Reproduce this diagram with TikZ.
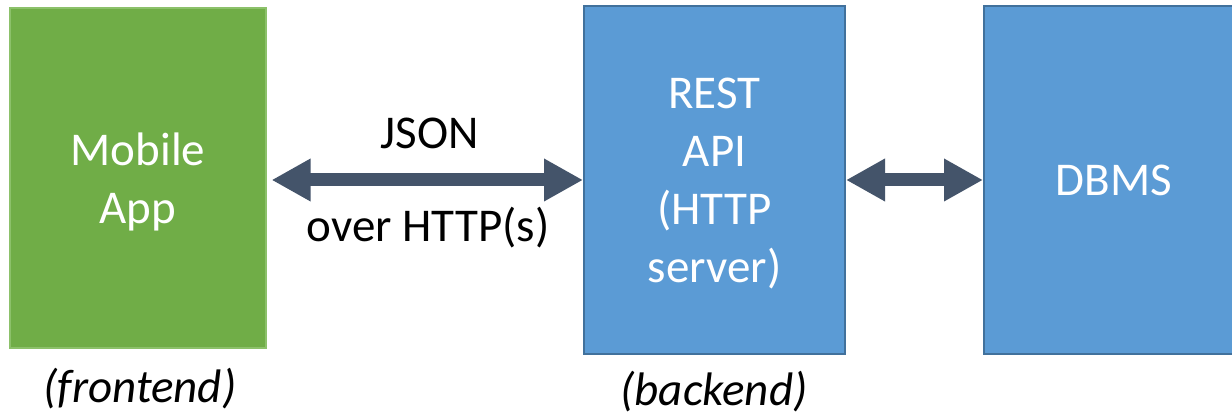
\documentclass[tikz,border=0pt]{standalone}
\usepackage{fontspec}
\setmainfont{Carlito}
\usetikzlibrary{arrows.meta}
\definecolor{appgreen}{HTML}{70AD47}
\definecolor{appgreenline}{HTML}{8CC16A}
\definecolor{srvblue}{HTML}{5B9BD5}
\definecolor{srvline}{HTML}{41719C}
\definecolor{arrowslate}{HTML}{44546A}
\tikzset{
  box/.style={rectangle, inner sep=0pt, text=white, align=center, text depth=0pt,
    font=\fontsize{23.5}{29}\selectfont},
  greenbox/.style={box, fill=appgreen, draw=appgreenline, line width=0.6pt},
  bluebox/.style={box, fill=srvblue, draw=srvline, line width=1pt},
  lbl/.style={font=\fontsize{23.5}{29}\selectfont, text=black, inner sep=0pt},
  fat/.style={draw=arrowslate, line width=6.5pt,
    {Triangle[length=19.5pt,width=20pt]}-{Triangle[length=19.5pt,width=20pt]}}
}
\begin{document}
\begin{tikzpicture}[x=0.5pt,y=-0.5pt]
\clip (0,0) rectangle (1232,415);
\fill[white] (0,0) rectangle (1232,415);
\node[greenbox, minimum width=128pt, minimum height=170pt] (mob) at (138,178) {Mobile\\App};
\node[bluebox, minimum width=130.5pt, minimum height=174pt] (rest) at (714.5,180) {REST\\API\\(HTTP\\server)};
\node[bluebox, minimum width=130pt, minimum height=174pt] (db) at (1114,180) {DBMS};
\draw[fat, shorten <=2.5pt] (mob.east |- rest.west) -- (rest.west);
\draw[fat] (rest.east) -- (db.west);
\node[lbl] (json) at (430,133) {JSON};
\node[lbl] (over) at (428,228) {over HTTP(s)};
\node[lbl, font=\fontsize{23.5}{29}\selectfont\itshape] (fe) at (140,389) {(frontend)};
\node[lbl, font=\fontsize{23.5}{29}\selectfont\itshape] (be) at (714,392) {(backend)};
\end{tikzpicture}
\end{document}
